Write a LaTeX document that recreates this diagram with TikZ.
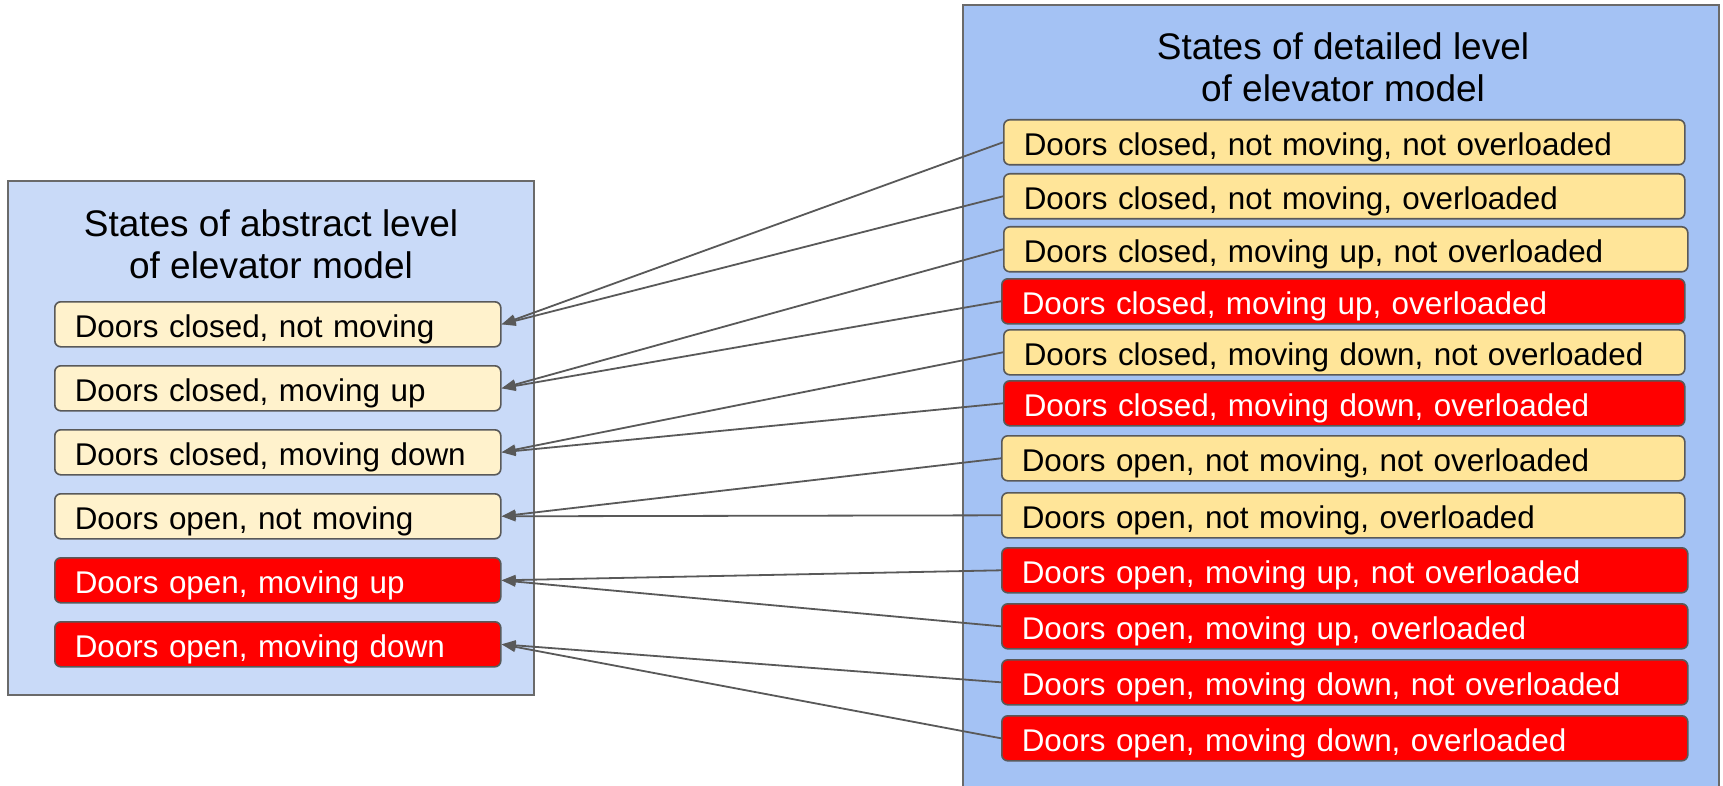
\documentclass[tikz,border=0pt]{standalone}
\usepackage{fontspec}
\setmainfont{Liberation Sans}
\usetikzlibrary{arrows.meta}

\definecolor{panelA}{HTML}{C9DAF8}
\definecolor{panelB}{HTML}{A4C2F4}
\definecolor{ylwA}{HTML}{FFF2CC}
\definecolor{ylwB}{HTML}{FFE599}
\definecolor{edge}{HTML}{595959}
\definecolor{alarm}{HTML}{FF0000}

\begin{document}
\begin{tikzpicture}[x=1pt,y=-1pt,
  panel/.style={draw=edge!90, line width=1.4pt},
  heading/.style={anchor=base, inner sep=0pt, font=\fontsize{37}{42}\selectfont},
  statebox/.style={draw=edge, line width=1.6pt, rounded corners=6pt,
    anchor=north west, minimum height=45pt, inner xsep=20pt, inner ysep=0pt,
    text height=26pt, text depth=0pt, align=left,
    font=\fontsize{31.4}{37}\selectfont},
  abs/.style={statebox, text width=406pt},
  det/.style={statebox, text width=#1},
  det/.default=641pt,
  okA/.style={fill=ylwA, text=black},
  okB/.style={fill=ylwB, text=black},
  bad/.style={fill=alarm, text=white},
  maps/.style={draw=edge, line width=1.8pt,
    -{Triangle[length=14pt,width=10pt]}}
]
\useasboundingbox (0,0) rectangle (1723,786);
\clip (0,0) rectangle (1723,786);
\fill[white] (0,0) rectangle (1723,786);

% the two containers
\draw[panel, fill=panelA] (8,181) rectangle (534,695);
\draw[panel, fill=panelB] (963,5) rectangle (1719,800);

% container headings
\node[heading] (absT1) at (271,237) {States of abstract level};
\node[heading] (absT2) at (271,278) {of elevator model};
\node[heading] (detT1) at (1343,60) {States of detailed level};
\node[heading] (detT2) at (1343,102) {of elevator model};

% abstract states
\node[abs, okA] (L1) at (54,301) {Doors closed, not moving};
\node[abs, okA] (L2) at (54,365) {Doors closed, moving up};
\node[abs, okA] (L3) at (54,429) {Doors closed, moving down};
\node[abs, okA] (L4) at (54,493) {Doors open, not moving};
\node[abs, bad] (L5) at (54,557) {Doors open, moving up};
\node[abs, bad] (L6) at (54,621) {Doors open, moving down};

% detailed states
\node[det, okB] (R1) at (1003,119) {Doors closed, not moving, not overloaded};
\node[det, okB] (R2) at (1003,173) {Doors closed, not moving, overloaded};
\node[det=644pt, okB] (R3) at (1003,226) {Doors closed, moving up, not overloaded};
\node[det=643pt, bad] (R4) at (1001,278) {Doors closed, moving up, overloaded};
\node[det, okB] (R5) at (1003,329) {Doors closed, moving down, not overloaded};
\node[det, bad] (R6) at (1003,380) {Doors closed, moving down, overloaded};
\node[det=643pt, okB] (R7) at (1001,435) {Doors open, not moving, not overloaded};
\node[det=643pt, okB] (R8) at (1001,492) {Doors open, not moving, overloaded};
\node[det=646pt, bad] (R9) at (1001,547) {Doors open, moving up, not overloaded};
\node[det=646pt, bad] (R10) at (1001,603) {Doors open, moving up, overloaded};
\node[det=646pt, bad] (R11) at (1001,659) {Doors open, moving down, not overloaded};
\node[det=646pt, bad] (R12) at (1001,715) {Doors open, moving down, overloaded};

% refinement mapping: each detailed state points to its abstract state
\draw[maps] (R1.west) -- (L1.east);
\draw[maps] (R2.west) -- (L1.east);
\draw[maps] (R3.west) -- (L2.east);
\draw[maps] (R4.west) -- (L2.east);
\draw[maps] (R5.west) -- (L3.east);
\draw[maps] (R6.west) -- (L3.east);
\draw[maps] (R7.west) -- (L4.east);
\draw[maps] (R8.west) -- (L4.east);
\draw[maps] (R9.west) -- (L5.east);
\draw[maps] (R10.west) -- (L5.east);
\draw[maps] (R11.west) -- (L6.east);
\draw[maps] (R12.west) -- (L6.east);
\end{tikzpicture}
\end{document}
